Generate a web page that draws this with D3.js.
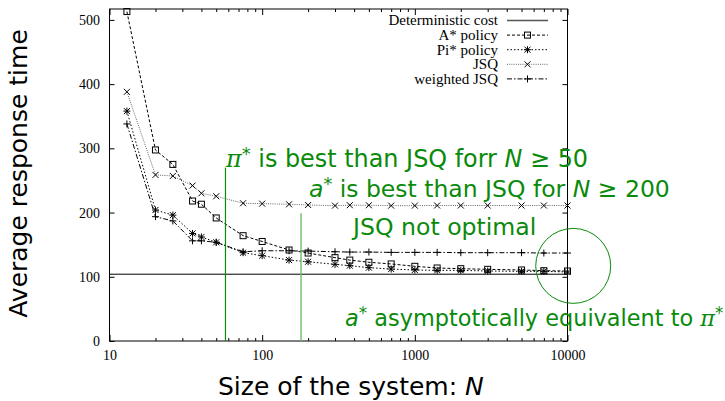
<!DOCTYPE html>
<html><head><meta charset="utf-8">
<script src="https://cdn.jsdelivr.net/npm/d3@7/dist/d3.min.js"></script>
<style>
body{margin:0;background:#fff;}
svg{display:block;}
.tick text{font-family:"Liberation Serif","Times New Roman",serif;font-size:14px;fill:#000;}
</style></head>
<body>
<svg id="c" width="725" height="401"></svg>
<script>
// ---- data ----
const sizes = [13,20,26,35,40,50,75,100,150,200,300,375,500,700,1000,1400,2000,3000,5000,7000,10000];
const aStarPolicy = [513,297.5,275,218,213,191.6,164,155,141.7,137,129.8,126,122.6,120,116.3,113.7,112.6,111.6,110.6,109.5,109];
const piStarPolicy = [358,204,196,167.5,162,153.7,137.5,132.9,126,123.4,119.4,117.3,114.2,112,110.6,110,110,109,108.5,108.5,107.5];
const jsqValues = [388,258.6,257,242,230,225.4,214.5,213.9,212.9,211.8,210.8,211.5,211.4,210.8,210.8,211,211,211,211,211,211];
const weightedJsq = [338,193.6,187,156,156,153.7,139,140.5,140.5,140,139,138.5,138.5,138,138,138,137.5,137.5,137.5,137,137];
const deterministicCost = 104;
const xTickValues = [10,100,1000,10000];
const yTickValues = [0,100,200,300,400,500];
const legendLabels = ["Deterministic cost","A* policy","Pi* policy","JSQ","weighted JSQ"];
// annotation anchors in data units
const markN50 = {n:57.5, top:270};
const markN200 = {n:179.7, top:199};
const circleCenter = {n:10900, v:117};

// ---- layout ----
const svg = d3.select("#c");
const L=109.5, R=567.5, T=9, B=341;
const x = d3.scaleLog().domain([10,10000]).range([L,R]);
const y = d3.scaleLinear().domain([0,517]).range([B,T]);

const minor = [];
for (let d=10; d<10000; d*=10) for (let k=2;k<=9;k++) minor.push(d*k);

// axes
svg.append("g").attr("transform",`translate(0,${B})`)
  .call(d3.axisBottom(x).tickValues(xTickValues).tickFormat(d3.format("d")).tickSize(-6).tickSizeOuter(0).tickPadding(9))
  .call(g=>g.select(".domain").remove());
svg.append("g").attr("transform",`translate(0,${B})`)
  .call(d3.axisBottom(x).tickValues(minor).tickFormat("").tickSize(-3).tickSizeOuter(0))
  .call(g=>g.select(".domain").remove());
svg.append("g").attr("transform",`translate(0,${T})`)
  .call(d3.axisTop(x).tickValues(xTickValues).tickFormat("").tickSize(-6).tickSizeOuter(0))
  .call(g=>g.select(".domain").remove());
svg.append("g").attr("transform",`translate(0,${T})`)
  .call(d3.axisTop(x).tickValues(minor).tickFormat("").tickSize(-3).tickSizeOuter(0))
  .call(g=>g.select(".domain").remove());
svg.append("g").attr("transform",`translate(${L},0)`)
  .call(d3.axisLeft(y).tickValues(yTickValues).tickSize(-5).tickSizeOuter(0).tickPadding(9.5))
  .call(g=>g.select(".domain").remove());
svg.append("g").attr("transform",`translate(${R},0)`)
  .call(d3.axisRight(y).tickValues(yTickValues).tickFormat("").tickSize(-5).tickSizeOuter(0))
  .call(g=>g.select(".domain").remove());

svg.append("rect").attr("x",L).attr("y",T).attr("width",R-L).attr("height",B-T)
  .attr("fill","none").attr("stroke","#000").attr("stroke-width",1);

// deterministic cost
svg.append("line").attr("x1",L).attr("x2",R).attr("y1",y(deterministicCost)).attr("y2",y(deterministicCost))
  .attr("stroke","#000").attr("stroke-width",1);

// marker helpers
function marker(g, type, cx, cy){
  const s=3;
  const p = g.append("g").attr("transform",`translate(${cx},${cy})`).attr("stroke","#000").attr("stroke-width",1).attr("fill","none");
  if(type==="square"){ p.append("rect").attr("x",-s).attr("y",-s).attr("width",2*s).attr("height",2*s); }
  if(type==="x"||type==="star"){ p.append("path").attr("d",`M${-s},${-s}L${s},${s}M${-s},${s}L${s},${-s}`); }
  if(type==="plus"||type==="star"){ p.append("path").attr("d",`M${-s-0.5},0L${s+0.5},0M0,${-s-0.5}L0,${s+0.5}`); }
}

const series = [
  {vals:aStarPolicy, dash:"3,2", color:"#000", m:"square"},
  {vals:piStarPolicy, dash:"1.5,2", color:"#000", m:"star"},
  {vals:jsqValues, dash:"1,1.2", color:"#666", m:"x"},
  {vals:weightedJsq, dash:"5,2,1.5,2", color:"#000", m:"plus"}
];
const line = d3.line().x(d=>x(d[0])).y(d=>y(d[1]));
series.forEach(s=>{
  const pts = sizes.map((n,i)=>[n,s.vals[i]]);
  svg.append("path").attr("d",line(pts)).attr("fill","none").attr("stroke",s.color)
    .attr("stroke-width",1).attr("stroke-dasharray",s.dash);
  const g = svg.append("g");
  pts.forEach(p=>marker(g,s.m,x(p[0]),y(p[1])));
});

// legend
const lg = svg.append("g");
const legStyles = [{dash:null,color:"#555",m:null}].concat(series);
legendLabels.forEach((lab,i)=>{
  const yy = 20.5 + i*14.6;
  lg.append("text").attr("x",498).attr("y",yy).attr("dy","0.33em").attr("text-anchor","end")
    .attr("font-family","Liberation Serif, Times New Roman, serif").attr("font-size",15).text(lab);
  const st = legStyles[i];
  lg.append("line").attr("x1",507).attr("x2",548).attr("y1",yy).attr("y2",yy)
    .attr("stroke",st.color).attr("stroke-width",i===0?1.5:1).attr("stroke-dasharray",st.dash);
  if(st.m) marker(lg,st.m,527.5,yy);
});

// axis titles
const sans = "DejaVu Sans, sans-serif";
svg.append("text").attr("transform","translate(27,173.5) rotate(-90)").attr("text-anchor","middle")
  .attr("font-family",sans).attr("font-size",25).text("Average response time");
const xt = svg.append("text").attr("x",218).attr("y",395).attr("font-family",sans).attr("font-size",25);
xt.append("tspan").text("Size of the system:  ");
xt.append("tspan").attr("font-style","italic").text("N");

// annotations
const green = "#0a8a0a";
svg.append("line").attr("x1",x(markN50.n)).attr("x2",x(markN50.n)).attr("y1",y(markN50.top)).attr("y2",B)
  .attr("stroke",green).attr("stroke-width",1.2);
svg.append("line").attr("x1",x(markN200.n)).attr("x2",x(markN200.n)).attr("y1",y(markN200.top)).attr("y2",B)
  .attr("stroke","#6cbf6c").attr("stroke-width",1.4);
svg.append("circle").attr("cx",x(circleCenter.n)).attr("cy",y(circleCenter.v)).attr("r",37.5)
  .attr("fill","none").attr("stroke",green).attr("stroke-width",1);

function ann(xp, yp, size, parts){
  const t = svg.append("text").attr("x",xp).attr("y",yp).attr("font-family",sans).attr("font-size",size).attr("fill",green);
  parts.forEach(p=>{
    const ts = t.append("tspan").text(p.t);
    if(p.it) ts.attr("font-style","italic");
    if(p.serif) ts.attr("font-family","DejaVu Serif, serif");
    if(p.sup) ts.attr("font-size",size*0.75).attr("dy",-7);
    if(p.down) ts.attr("dy",7);
  });
}
ann(226,167,23.9,[{t:"π",it:true,serif:true},{t:"*",sup:true},{t:" is best than JSQ forr ",down:true},{t:"N",it:true},{t:" ≥ 50"}]);
ann(309,197,23.5,[{t:"a",it:true},{t:"*",sup:true},{t:" is best than JSQ for ",down:true},{t:"N",it:true},{t:" ≥ 200"}]);
ann(353,235,23.6,[{t:"JSQ not optimal"}]);
ann(345,326,22.4,[{t:"a",it:true},{t:"*",sup:true},{t:" asymptotically equivalent to ",down:true},{t:"π",it:true,serif:true},{t:"*",sup:true}]);
</script>
</body></html>
